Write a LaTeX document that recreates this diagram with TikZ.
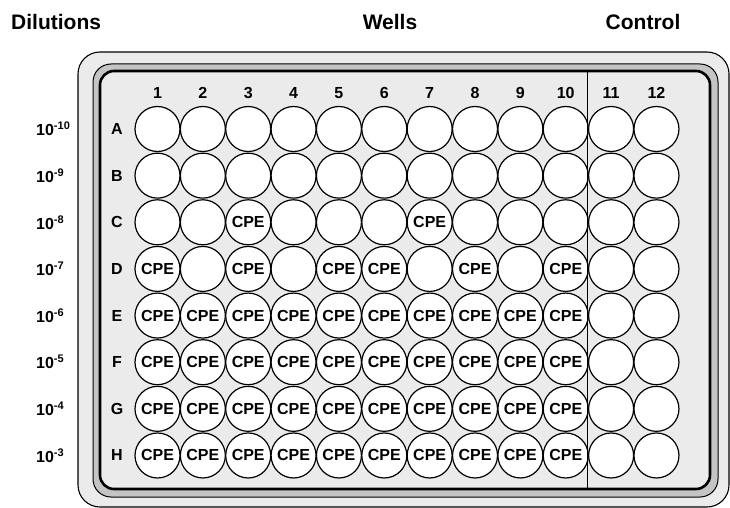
\documentclass[tikz,border=0pt]{standalone}
\usepackage{fontspec}
\setmainfont{Liberation Sans}
\definecolor{plategray}{HTML}{EBEBEB}
\definecolor{bandgray}{HTML}{C4C4C4}
\begin{document}
\begin{tikzpicture}[x=1pt,y=-1pt,
  title/.style={font=\fontsize{21}{24}\selectfont\bfseries, inner sep=0pt},
  collabel/.style={font=\fontsize{16}{18}\selectfont\bfseries, inner sep=0pt},
  rowlabel/.style={font=\fontsize{16}{18}\selectfont\bfseries, inner sep=0pt},
  dillabel/.style={font=\fontsize{16}{18}\selectfont\bfseries, inner sep=0pt, anchor=west},
  well/.style={circle, draw=black, line width=1.2pt, fill=white, minimum size=45pt, inner sep=0pt},
  cpetext/.style={font=\fontsize{16}{18}\selectfont\bfseries, inner sep=0pt},
  outerrim/.style={draw=black, line width=1.1pt, fill=plategray, rounded corners=22pt},
  bandrim/.style={draw=black, line width=1pt, fill=bandgray, rounded corners=18pt},
  innerrim/.style={draw=black, line width=2.6pt, fill=plategray, rounded corners=14pt},
  divider/.style={draw=black, line width=0.9pt}
]
\useasboundingbox (0,0) rectangle (730,508);
% titles
\node[title, anchor=west] (tdil) at (11,22) {Dilutions};
\node[title] (twells) at (390,22) {Wells};
\node[title] (tctrl) at (643,22) {Control};
% plate
\draw[outerrim] (78,52) rectangle (729,507);
\draw[bandrim] (93,64) rectangle (718,497);
\draw[innerrim] (100,71) rectangle (710,489);
% column labels
\foreach \c in {1,...,12} {
  \node[collabel] (col\c) at ({157.5+(\c-1)*45.36},93) {\c};
}
% rows
\foreach \r/\L/\e in {0/A/10,1/B/9,2/C/8,3/D/7,4/E/6,5/F/5,6/G/4,7/H/3} {
  \node[rowlabel] (row\L) at (117,{129+\r*46.64}) {\L};
  \node[dillabel] (dil\L) at (36,{129+\r*46.64}) {10\raisebox{6pt}{\fontsize{11}{12}\selectfont -\e}};
  \foreach \c in {1,...,12} {
    \node[well] (w\L\c) at ({157.5+(\c-1)*45.36},{129+\r*46.64}) {};
  }
}
% divider between wells and controls
\coordinate (dtop) at (587,71);
\coordinate (dbot) at (587,489);
\draw[divider] (dtop) -- (dbot);
% CPE labels
\foreach \w in {C3,C7,D1,D3,D5,D6,D8,D10} {
  \node[cpetext] (cpe\w) at (w\w) {CPE};
}
\foreach \L in {E,F,G,H} {
  \foreach \c in {1,...,10} {
    \node[cpetext] (cpe\L\c) at (w\L\c) {CPE};
  }
}
\end{tikzpicture}
\end{document}
